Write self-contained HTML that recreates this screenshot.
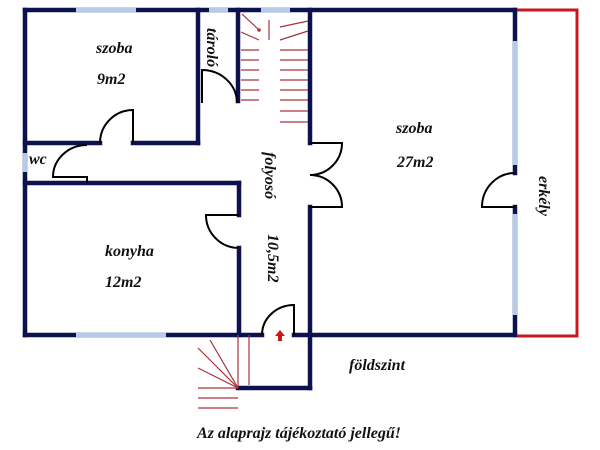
<!DOCTYPE html>
<html><head><meta charset="utf-8"><style>
html,body{margin:0;padding:0;background:#fff;width:600px;height:450px;overflow:hidden}
text{font-family:"Liberation Serif",serif;font-style:italic;font-weight:bold;fill:#111;font-size:16px}
</style></head><body>
<svg width="600" height="450" viewBox="0 0 600 450" xmlns="http://www.w3.org/2000/svg">
<g stroke="#0d1150" stroke-width="4.5" fill="none" stroke-linecap="square">
<line x1="25" y1="10" x2="515" y2="10"/>
<line x1="25" y1="10" x2="25" y2="335"/>
<line x1="25" y1="335" x2="262" y2="335"/>
<line x1="294" y1="335" x2="515" y2="335"/>
<line x1="515" y1="10" x2="515" y2="173"/>
<line x1="515" y1="207" x2="515" y2="335"/>
<line x1="198" y1="10" x2="198" y2="143"/>
<line x1="25" y1="143" x2="100" y2="143"/>
<line x1="133" y1="143" x2="198" y2="143"/>
<line x1="238" y1="10" x2="238" y2="101"/>
<line x1="310" y1="10" x2="310" y2="143"/>
<line x1="310" y1="207" x2="310" y2="388"/>
<line x1="25" y1="183" x2="239" y2="183"/>
<line x1="239" y1="183" x2="239" y2="215"/>
<line x1="239" y1="248" x2="239" y2="335"/>
<line x1="238" y1="388" x2="310" y2="388"/>
</g>
<g stroke="#b4cce8" stroke-width="4.5">
<line x1="76" y1="10" x2="136" y2="10"/>
<line x1="209" y1="10" x2="228" y2="10"/>
<line x1="261" y1="10" x2="290" y2="10"/>
<line x1="76" y1="335" x2="166" y2="335"/>
<line x1="515" y1="41" x2="515" y2="165"/>
<line x1="515" y1="214" x2="515" y2="315"/>
<line x1="25" y1="153" x2="25" y2="172"/>
</g>
<polyline points="517,10 577,10 577,336 517,336" stroke="#c8181e" stroke-width="3" fill="none"/>
<g stroke="#000" stroke-width="2" fill="none">
<path d="M100 143 A33 33 0 0 1 133 110 L133 143"/>
<path d="M202 103 L202 70 A35 33 0 0 1 237 103"/>
<path d="M87 145 A34 32 0 0 0 53 177 L87 177 L87 183"/>
<path d="M310 143 L342 143 A32 32 0 0 1 310 175 A32 32 0 0 1 342 207 L310 207"/>
<path d="M515 173 A33 34 0 0 0 482 207 L515 207"/>
<path d="M239 215 L206 215 A33 33 0 0 0 239 248"/>
<path d="M262 335 A32 30 0 0 1 294 305 L294 335"/>
</g>
<g stroke="#a8343a" stroke-width="1.2">
<line x1="241" y1="50" x2="259" y2="50"/><line x1="241" y1="60" x2="259" y2="60"/>
<line x1="241" y1="70" x2="259" y2="70"/><line x1="241" y1="80" x2="259" y2="80"/>
<line x1="241" y1="90" x2="259" y2="90"/><line x1="241" y1="100" x2="259" y2="100"/>
<line x1="280" y1="50" x2="308" y2="50"/><line x1="280" y1="60" x2="308" y2="60"/>
<line x1="280" y1="70" x2="308" y2="70"/><line x1="280" y1="80" x2="308" y2="80"/>
<line x1="280" y1="90" x2="308" y2="90"/><line x1="280" y1="100" x2="308" y2="100"/>
<line x1="280" y1="111" x2="308" y2="111"/><line x1="280" y1="122" x2="308" y2="122"/>
<line x1="242" y1="14" x2="259" y2="30"/><line x1="241" y1="32" x2="259" y2="40"/>
<line x1="269" y1="20" x2="269" y2="40"/>
<line x1="280" y1="27" x2="308" y2="21"/><line x1="280" y1="40" x2="308" y2="31"/>
<line x1="238" y1="335" x2="238" y2="388"/><line x1="249" y1="335" x2="249" y2="385"/>
<line x1="210" y1="340" x2="238" y2="388"/><line x1="198" y1="348" x2="238" y2="388"/>
<line x1="198" y1="368" x2="238" y2="388"/>
<line x1="198" y1="388" x2="238" y2="388"/><line x1="198" y1="398" x2="238" y2="398"/>
<line x1="198" y1="408" x2="238" y2="408"/>
</g>
<circle cx="259" cy="30" r="1.8" fill="#a8343a"/>
<path d="M280 330 L275 336 L278 336 L278 341 L282 341 L282 336 L285 336 Z" fill="#d0141a"/>
<text x="96" y="53">szoba</text>
<text x="97" y="84">9m2</text>
<text x="29" y="164">wc</text>
<text x="105" y="256">konyha</text>
<text x="105" y="287">12m2</text>
<text x="396" y="133">szoba</text>
<text x="397" y="167">27m2</text>
<text x="349" y="370">földszint</text>
<text x="197" y="438">Az alaprajz tájékoztató jellegű!</text>
<text transform="translate(207,28) rotate(90)">tároló</text>
<text transform="translate(265,152) rotate(90)">folyosó</text>
<text transform="translate(268,234) rotate(90)">10,5m2</text>
<text transform="translate(539,176) rotate(90)">erkély</text>
</svg>
</body></html>
